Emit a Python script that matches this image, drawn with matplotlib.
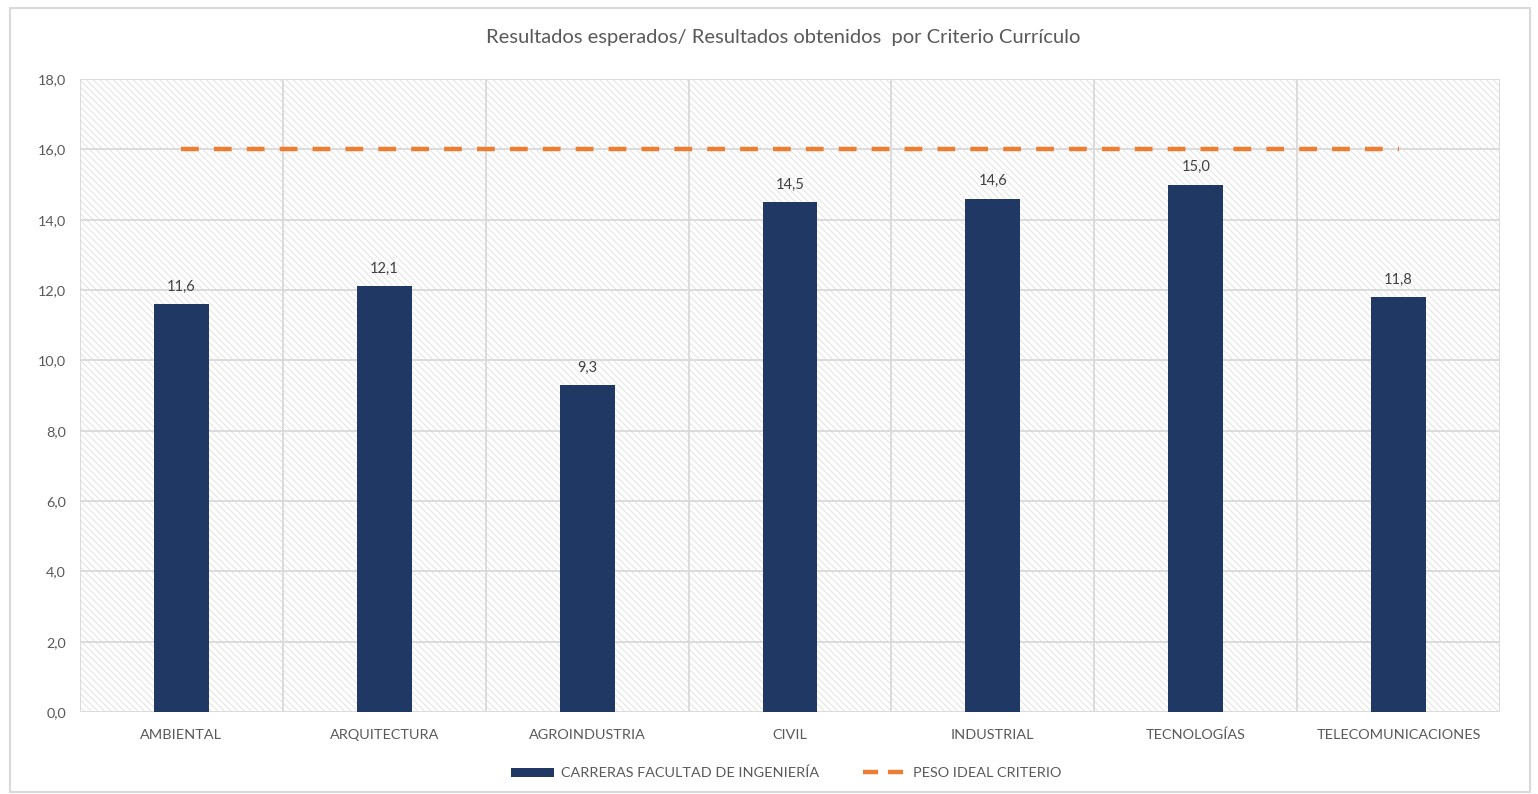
import numpy as np
import matplotlib.pyplot as plt
from matplotlib.patches import Rectangle
from matplotlib.lines import Line2D
from matplotlib.patches import Patch

plt.rcParams['font.family'] = ['Lato', 'DejaVu Sans']
plt.rcParams['hatch.color'] = '#dedede'
plt.rcParams['hatch.linewidth'] = 0.6

# data
carreras = ['AMBIENTAL', 'ARQUITECTURA', 'AGROINDUSTRIA', 'CIVIL',
            'INDUSTRIAL', 'TECNOLOGÍAS', 'TELECOMUNICACIONES']
resultados = [11.6, 12.1, 9.3, 14.5, 14.6, 15.0, 11.8]
peso_ideal = [16.0, 16.0, 16.0, 16.0, 16.0, 16.0, 16.0]

bar_color = '#203864'
line_color = '#ed7d31'
text_color = '#595959'
grid_color = '#d9d9d9'

fig = plt.figure(figsize=(15.38, 7.94), dpi=100)
ax = fig.add_axes([80/1538, 82/794, 1420/1538, 633/794])

# outer chart border
fig.patches.append(Rectangle((10/1538, 2/794), 1520/1538, 784/794,
                             transform=fig.transFigure, fill=False,
                             edgecolor='#d9d9d9', linewidth=1.5))

# hatched plot area
ax.add_patch(Rectangle((0, 0), 1, 1, transform=ax.transAxes, facecolor='white',
                       hatch='\\\\\\\\\\', edgecolor='#dedede', linewidth=0, zorder=0))

x = np.arange(len(carreras))
bars = ax.bar(x, resultados, width=0.27, color=bar_color, zorder=3)
ax.plot(x, peso_ideal, color=line_color, linewidth=3.2, linestyle=(0, (4.0, 3.4)),
        dash_capstyle='butt', zorder=4)

for xi, v in zip(x, resultados):
    ax.text(xi, v + 0.3, f'{v:.1f}'.replace('.', ','), ha='center', va='bottom',
            fontsize=10.5, color='#404040', zorder=5)

ax.set_xlim(-0.5, len(carreras) - 0.5)
ax.set_ylim(0, 18)
ax.set_yticks(np.arange(0, 18.1, 2))
ax.set_yticklabels([f'{t:.1f}'.replace('.', ',') for t in np.arange(0, 18.1, 2)])
ax.set_xticks(x)
ax.set_xticklabels(carreras)
ax.tick_params(axis='both', length=0, labelsize=10.4, labelcolor=text_color)
ax.tick_params(axis='x', pad=12)
ax.tick_params(axis='y', pad=10)

for t in np.arange(0, 18.1, 2):
    ax.axhline(t, color=grid_color, linewidth=1.3, zorder=1)
for b in np.arange(-0.5, len(carreras), 1):
    ax.axvline(b, color=grid_color, linewidth=1.3, zorder=1)
for s in ax.spines.values():
    s.set_visible(False)

fig.text(783/1538, 1 - 37/794, 'Resultados esperados/ Resultados obtenidos  por Criterio Currículo',
         ha='center', va='center', fontsize=14.5, color=text_color)

handles = [Patch(facecolor=bar_color, label='CARRERAS FACULTAD DE INGENIERÍA'),
           Line2D([0], [0], color=line_color, linewidth=3.2, linestyle=(0, (3.4, 2.2)),
                  label='PESO IDEAL CRITERIO')]
fig.legend(handles=handles, loc='center', bbox_to_anchor=(786/1538, 1 - 773/794), ncol=2,
           frameon=False, fontsize=10.4, labelcolor=text_color, handlelength=3.0,
           handleheight=0.6, handletextpad=0.5, columnspacing=3.0)

fig.savefig('out.png', dpi=100)
